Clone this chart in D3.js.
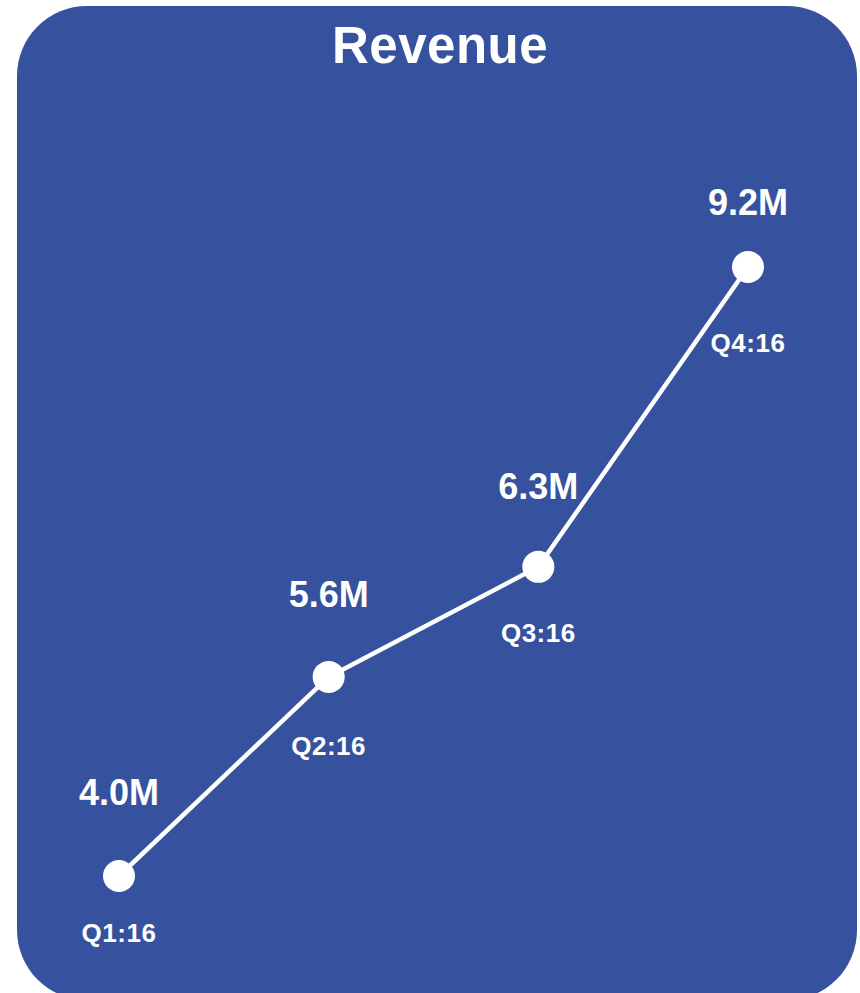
<!DOCTYPE html>
<html>
<head>
<meta charset="utf-8">
<script src="https://cdn.jsdelivr.net/npm/d3@7"></script>
<style>
  html, body { margin: 0; padding: 0; background: #ffffff; }
  svg { display: block; }
  text { font-family: "Liberation Sans", Arial, Helvetica, sans-serif; font-weight: bold; fill: #ffffff; }
</style>
</head>
<body>
<svg id="chart" width="860" height="993"></svg>
<script>
// ---- data ----
const title = "Revenue";
const quarters = ["Q1:16", "Q2:16", "Q3:16", "Q4:16"];
const revenue = [4.0, 5.7, 6.64, 9.2];            // plotted values (M), read from point positions
const revenueLabels = ["4.0M", "5.6M", "6.3M", "9.2M"]; // printed labels

// ---- layout ----
const W = 860, H = 993;
const panel = { x: 17, y: 6, w: 840, h: 994, r: 70, fill: "#36519D" };
const valueDy = [-71, -70, -68, -52];   // label baseline offset above point
const quarterDy = [66, 78, 75, 85];     // label baseline offset below point

const svg = d3.select("#chart");

svg.append("rect")
  .attr("x", panel.x).attr("y", panel.y)
  .attr("width", panel.w).attr("height", panel.h)
  .attr("rx", panel.r).attr("ry", panel.r)
  .attr("fill", panel.fill);

svg.append("text")
  .attr("x", 440).attr("y", 63)
  .attr("text-anchor", "middle")
  .style("font-size", "51px")
  .style("letter-spacing", "0.5px")
  .text(title);

const x = d3.scalePoint().domain(quarters).range([119, 748]);
const y = d3.scaleLinear().domain([4.0, 9.2]).range([876, 267]);

const pts = quarters.map((q, i) => ({ q, v: revenue[i], label: revenueLabels[i], i }));

svg.append("path")
  .datum(pts)
  .attr("fill", "none")
  .attr("stroke", "#ffffff")
  .attr("stroke-width", 4.5)
  .attr("stroke-linejoin", "round")
  .attr("d", d3.line().x(d => x(d.q)).y(d => y(d.v)));

svg.selectAll("circle.pt")
  .data(pts)
  .join("circle")
  .attr("class", "pt")
  .attr("cx", d => x(d.q))
  .attr("cy", d => y(d.v))
  .attr("r", 16)
  .attr("fill", "#ffffff");

svg.selectAll("text.val")
  .data(pts)
  .join("text")
  .attr("class", "val")
  .attr("x", d => x(d.q) + 0)
  .attr("y", d => y(d.v) + valueDy[d.i])
  .attr("text-anchor", "middle")
  .style("font-size", "36px")
  .text(d => d.label);

svg.selectAll("text.qtr")
  .data(pts)
  .join("text")
  .attr("class", "qtr")
  .attr("x", d => x(d.q))
  .attr("y", d => y(d.v) + quarterDy[d.i])
  .attr("text-anchor", "middle")
  .style("font-size", "26px")
  .style("letter-spacing", "0.5px")
  .text(d => d.q);
</script>
</body>
</html>
